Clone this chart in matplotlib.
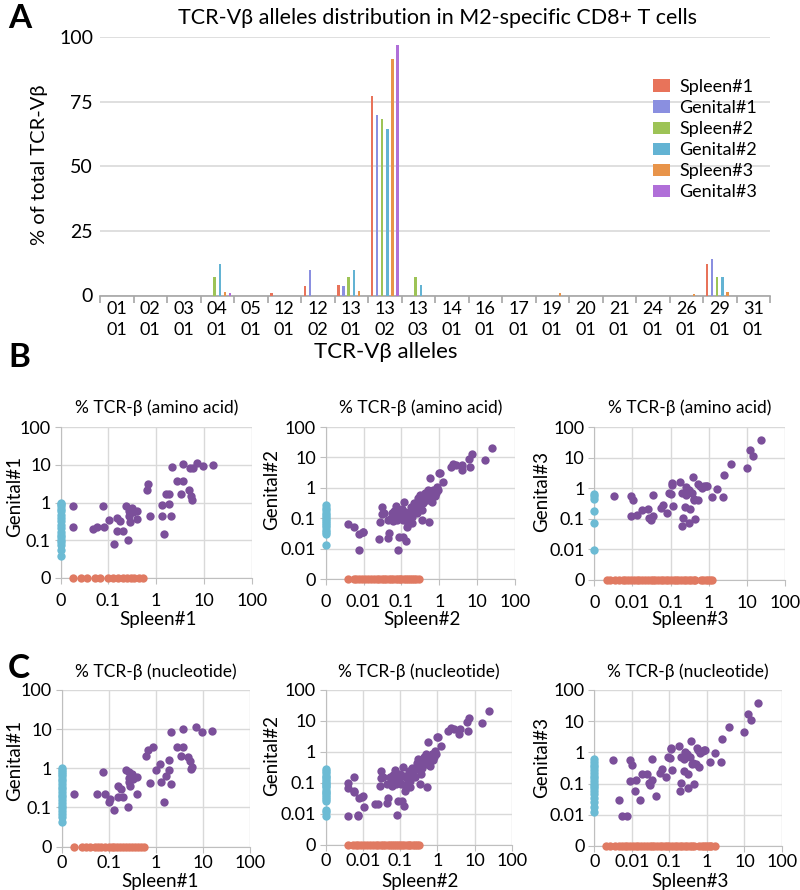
import numpy as np
import matplotlib
matplotlib.use("Agg")
import matplotlib.pyplot as plt
from matplotlib.patches import Patch

plt.rcParams['font.family'] = ['Lato', 'DejaVu Sans']

# ---------------- Panel A data ----------------
categories = ["01\n01", "02\n01", "03\n01", "04\n01", "05\n01", "12\n01", "12\n02", "13\n01",
              "13\n02", "13\n03", "14\n01", "16\n01", "17\n01", "19\n01", "20\n01", "21\n01",
              "24\n01", "26\n01", "29\n01", "31\n01"]
series_names = ["Spleen#1", "Genital#1", "Spleen#2", "Genital#2", "Spleen#3", "Genital#3"]
spleen1 = [0, 0, 0, 0, 0, 1.0, 3.7, 4.2, 77, 0, 0, 0, 0, 0, 0, 0, 0, 0, 12.3, 0]
genital1 = [0, 0, 0, 0, 0, 0, 10, 3.6, 70, 0, 0, 0, 0, 0, 0, 0, 0, 0, 14.2, 0]
spleen2 = [0, 0, 0, 7.2, 0, 0, 0, 7.2, 68.4, 7.3, 0, 0, 0, 0, 0, 0, 0, 0, 7.0, 0]
genital2 = [0, 0, 0, 12.3, 0, 0, 0, 9.8, 64.5, 3.9, 0, 0, 0, 0, 0, 0, 0, 0, 7.0, 0]
spleen3 = [0, 0, 0, 1.4, 0, 0, 0, 1.9, 91.5, 0, 0, 0, 0, 0.8, 0, 0, 0, 0.5, 1.4, 0]
genital3 = [0, 0, 0, 0.8, 0, 0, 0, 0, 97, 0, 0, 0, 0, 0, 0, 0, 0, 0, 0, 0]
bar_colors = ["#E8735A", "#8A8FE0", "#9DC356", "#63B3D3", "#E8944A", "#B06FD8"]

# ---------------- Panel B/C data (percent) ----------------
# B1: amino acid, Spleen#1 vs Genital#1 (shared clones)
b1_spleen = [0.018, 0.018, 0.047, 0.057, 0.082, 0.076, 0.103, 0.131, 0.154, 0.178, 0.154, 0.233,
             0.205, 0.257, 0.274, 0.274, 0.283, 0.307, 0.322, 0.40, 0.39, 0.63, 0.67, 0.74, 1.30,
             1.30, 1.46, 1.61, 1.86, 1.86, 2.08, 2.11, 2.78, 3.71, 3.36, 3.71, 4.80, 5.28, 5.63,
             5.81, 5.2, 9.4, 7.05, 15.7]
b1_genital = [0.79, 0.22, 0.20, 0.22, 0.22, 0.82, 0.35, 0.081, 0.38, 0.32, 0.18, 0.82, 0.18,
              0.10, 0.45, 0.58, 0.30, 0.71, 0.55, 0.61, 0.37, 2.1, 3.1, 0.45, 0.88, 0.45, 0.144,
              1.68, 1.68, 0.93, 0.43, 8.7, 3.6, 10.5, 1.71, 3.6, 2.1, 1.46, 1.19, 8.2, 8.0, 9.1,
              11.1, 10.0]
b1_genital_only = [1.0, 0.9, 0.82, 0.67, 0.58, 0.48, 0.39, 0.32, 0.26, 0.21, 0.17, 0.14, 0.12,
                   0.10, 0.09, 0.076, 0.056, 0.039]
b1_spleen_only = [0.018, 0.027, 0.036, 0.052, 0.065, 0.10, 0.127, 0.16, 0.20, 0.24, 0.29, 0.35,
                  0.43, 0.54]

# B2
b2_spleen = [0.0040, 0.0057, 0.0077, 0.0095, 0.0099, 0.0076, 0.025, 0.031, 0.028, 0.030, 0.035,
             0.045, 0.048, 0.045, 0.052, 0.059, 0.061, 0.065, 0.072, 0.078, 0.088, 0.088, 0.096,
             0.102, 0.108, 0.113, 0.117, 0.124, 0.131, 0.137, 0.145, 0.152, 0.083, 0.165, 0.175,
             0.186, 0.206, 0.215, 0.229, 0.253, 0.28, 0.30, 0.31, 0.34, 0.36, 0.38, 0.40, 0.43,
             0.46, 0.51, 0.54, 0.56, 0.59, 0.63, 0.67, 0.70, 0.72, 0.77, 0.82, 0.85, 0.93, 0.96,
             1.04, 1.28, 2.0, 2.35, 2.76, 3.9, 4.0, 6.2, 6.5, 7.2, 16, 24,
             0.055, 0.068, 0.092, 0.152, 0.186, 0.253, 0.37, 0.46]
b2_genital = [0.065, 0.053, 0.031, 0.034, 0.036, 0.0087, 0.021, 0.24, 0.077, 0.138, 0.152, 0.022,
              0.032, 0.088, 0.10, 0.128, 0.081, 0.178, 0.25, 0.088, 0.163, 0.025, 0.113, 0.196,
              0.088, 0.025, 0.33, 0.163, 0.018, 0.053, 0.065, 0.092, 0.0087, 0.113, 0.24, 0.072,
              0.163, 0.31, 0.21, 0.152, 0.45, 0.27, 0.58, 0.088, 0.19, 0.31, 0.42, 0.69, 0.51,
              0.84, 0.075, 2.03, 0.51, 0.35, 0.66, 0.84, 0.62, 0.55, 0.69, 1.08, 0.84, 2.96, 3.1,
              1.50, 4.66, 6.0, 5.6, 3.8, 5.6, 9.2, 4.66, 12.7, 8.5, 21,
              0.152, 0.113, 0.128, 0.14, 0.113, 0.31, 0.51, 0.40]
b2_genital_only = [0.27, 0.22, 0.18, 0.15, 0.13, 0.11, 0.095, 0.08, 0.07, 0.06, 0.05, 0.042,
                   0.035, 0.03, 0.013]
b2_spleen_only = [0.004, 0.0055, 0.0065, 0.0075, 0.009, 0.011, 0.013, 0.016, 0.019, 0.022, 0.026,
                  0.03, 0.035, 0.04, 0.046, 0.053, 0.06, 0.07, 0.08, 0.09, 0.1, 0.115, 0.13, 0.15,
                  0.17, 0.19, 0.22, 0.25, 0.29]

# B3
b3_spleen = [0.0032, 0.0092, 0.0101, 0.0092, 0.0129, 0.0181, 0.026, 0.028, 0.030, 0.034, 0.034,
             0.056, 0.064, 0.082, 0.093, 0.102, 0.109, 0.111, 0.118, 0.177, 0.195, 0.207, 0.239,
             0.25, 0.26, 0.28, 0.30, 0.31, 0.32, 0.36, 0.38, 0.40, 0.42, 0.44, 0.51, 0.53, 0.59,
             0.65, 0.77, 0.83, 0.88, 1.24, 1.61, 2.42, 2.5, 3.84, 9.9, 12.1, 14.8, 23.5, 0.20]
b3_genital = [0.56, 0.57, 0.40, 0.119, 0.13, 0.196, 0.205, 0.105, 0.088, 0.128, 0.62, 0.22, 0.29,
              0.16, 0.69, 0.66, 1.26, 1.43, 0.27, 1.58, 0.059, 0.105, 0.25, 0.62, 1.06, 0.69,
              0.89, 0.072, 0.205, 0.69, 2.30, 0.42, 0.46, 0.097, 0.41, 1.39, 1.20, 0.98, 1.14,
              1.2, 1.2, 0.50, 0.97, 0.51, 2.68, 6.3, 4.43, 17.2, 10.9, 38.5, 0.69]
b3_genital_only = [0.66, 0.55, 0.46, 0.18, 0.075, 0.0096]
b3_spleen_only = [0.0021, 0.0026, 0.0035, 0.0045, 0.0055, 0.0065, 0.0075, 0.009, 0.011, 0.013,
                  0.015, 0.018, 0.021, 0.025, 0.03, 0.035, 0.04, 0.047, 0.055, 0.065, 0.075,
                  0.088, 0.1, 0.12, 0.14, 0.16, 0.19, 0.22, 0.26, 0.3, 0.35, 0.41, 0.45, 0.62,
                  0.72, 0.85, 0.95, 1.05, 1.19]

# C1: nucleotide
c1_spleen = [0.018, 0.057, 0.082, 0.076, 0.103, 0.131, 0.154, 0.178, 0.154, 0.233, 0.205, 0.257,
             0.274, 0.274, 0.283, 0.307, 0.322, 0.40, 0.39, 0.63, 0.67, 0.74, 1.00, 1.20, 1.30,
             1.46, 1.61, 1.86, 1.86, 2.08, 2.11, 2.78, 3.71, 3.36, 3.71, 4.80, 5.28, 5.63, 5.81,
             9.4, 7.05, 15.7, 0.85, 0.105, 0.27]
c1_genital = [0.22, 0.22, 0.22, 0.80, 0.14, 0.085, 0.35, 0.30, 0.18, 0.90, 0.18, 0.10, 0.45,
              0.55, 0.35, 0.70, 0.52, 0.60, 0.22, 2.0, 2.9, 0.42, 0.88, 1.3, 0.45, 0.14, 0.62,
              1.6, 0.92, 0.40, 8.3, 3.4, 10.0, 2.1, 3.5, 1.9, 1.5, 0.95, 1.1, 8.6, 11.5, 9.2,
              3.5, 0.16, 0.80]
c1_genital_only = [1.0, 0.92, 0.82, 0.72, 0.62, 0.54, 0.46, 0.4, 0.34, 0.29, 0.25, 0.21, 0.18,
                   0.15, 0.13, 0.11, 0.095, 0.08, 0.068, 0.056, 0.042]
c1_spleen_only = [0.018, 0.027, 0.033, 0.04, 0.052, 0.06, 0.07, 0.085, 0.10, 0.115, 0.13, 0.15,
                  0.17, 0.20, 0.23, 0.27, 0.31, 0.36, 0.42, 0.48, 0.55]

# C2
c2_spleen = b2_spleen + [0.004, 0.0075, 0.0058, 0.011, 0.004, 0.0058, 0.021]
c2_genital = b2_genital + [0.0085, 0.0085, 0.15, 0.016, 0.10, 0.05, 0.02]
c2_genital_only = [0.28, 0.24, 0.2, 0.17, 0.15, 0.13, 0.115, 0.1, 0.09, 0.08, 0.07, 0.06, 0.05,
                   0.045, 0.04, 0.035, 0.03, 0.026, 0.013, 0.011, 0.0085]
c2_spleen_only = b2_spleen_only + [0.32]

# C3
c3_spleen = b3_spleen + [0.0055, 0.0075, 0.0045, 0.012, 0.016, 0.045, 0.6]
c3_genital = b3_genital + [0.009, 0.009, 0.03, 0.06, 0.03, 0.04, 0.35]
c3_genital_only = [0.6, 0.5, 0.4, 0.33, 0.27, 0.22, 0.18, 0.15, 0.12, 0.1, 0.085, 0.07, 0.058,
                   0.045, 0.035, 0.025, 0.018, 0.012]
c3_spleen_only = b3_spleen_only + [1.3, 1.6]

# ---------------- Figure ----------------
fig = plt.figure(figsize=(8, 8.9), dpi=100)
W, H = 800, 890


def rect(x0, y0, x1, y1):
    return [x0 / W, 1 - y1 / H, (x1 - x0) / W, (y1 - y0) / H]


def ftext(x, y, s, **kw):
    fig.text(x / W, 1 - y / H, s, **kw)


# Panel A
axA = fig.add_axes(rect(100, 37, 770, 295.5))
n = len(categories)
idx = np.arange(n)
series = [spleen1, genital1, spleen2, genital2, spleen3, genital3]
step = 0.152
bw = 0.075
for k, (vals, col, name) in enumerate(zip(series, bar_colors, series_names)):
    axA.bar(idx + (k - 2.5) * step, vals, width=bw, color=col, label=name, zorder=3)
axA.set_xlim(-0.5, n - 0.5)
axA.set_ylim(0, 100)
axA.set_yticks([0, 25, 50, 75, 100])
axA.yaxis.grid(True, color="#d9d9d9", linewidth=1.2, zorder=0)
axA.set_axisbelow(True)
for s in ["top", "right", "left"]:
    axA.spines[s].set_visible(False)
axA.spines["bottom"].set_color("#a6a6a6")
axA.spines["bottom"].set_linewidth(1.2)
axA.set_xticks(idx)
axA.set_xticklabels(categories, fontsize=13, linespacing=1.4)
axA.set_xticks(np.arange(-0.5, n, 1.0), minor=True)
axA.tick_params(axis="x", which="major", length=0, pad=4)
axA.tick_params(axis="x", which="minor", length=5, color="#a6a6a6", width=1.2)
axA.tick_params(axis="y", length=0, labelsize=14, pad=5)
ftext(40, 165, "% of total TCR-V\u03b2", fontsize=14.5, rotation=90, ha="center", va="center")
ftext(386, 352, "TCR-V\u03b2 alleles", fontsize=16, ha="center", va="center")
ftext(437, 18, "TCR-V\u03b2 alleles distribution in M2-specific CD8+ T cells", fontsize=15.5,
      ha="center", va="center")
handles = [Patch(facecolor=c, edgecolor="none") for c in bar_colors]
fig.legend(handles, series_names, loc="upper left", bbox_to_anchor=(644 / W, 1 - 70 / H),
           frameon=False, fontsize=13, handlelength=0.95, handleheight=0.7,
           handletextpad=0.5, labelspacing=0.28, borderpad=0)

purple = "#7B4F9A"
cyan = "#6CBBD4"
orange = "#E07A62"


def panel(box, zero, shared_x, shared_y, g_only, s_only, title, xl, yl, xl_pos, yl_pos, t_y,
          xpad):
    ax = fig.add_axes(rect(*box))
    ax.set_xscale("log")
    ax.set_yscale("log")
    ax.set_xlim(zero, 100)
    ax.set_ylim(zero, 100)
    decades = [zero * 10 ** i for i in range(int(round(np.log10(100 / zero))) + 1)]
    labels = ["0"] + [("%g" % d) for d in decades[1:]]
    ax.set_xticks(decades)
    ax.set_xticklabels(labels)
    ax.set_yticks(decades)
    ax.set_yticklabels(labels)
    ax.minorticks_off()
    ax.grid(True, color="#d9d9d9", linewidth=1.0, zorder=0)
    ax.set_axisbelow(True)
    for s in ["top", "right"]:
        ax.spines[s].set_visible(False)
    for s in ["left", "bottom"]:
        ax.spines[s].set_color("#bfbfbf")
    ax.tick_params(length=4, color="#bfbfbf", labelsize=13, pad=3)
    ax.tick_params(axis="x", pad=xpad)
    go = np.asarray(g_only, dtype=float)
    so = np.asarray(s_only, dtype=float)
    ax.scatter(so, np.full_like(so, zero), s=36, color=orange, linewidths=0, zorder=3,
               clip_on=False)
    ax.scatter(np.full_like(go, zero), go, s=36, color=cyan, linewidths=0, zorder=3,
               clip_on=False)
    ax.scatter(shared_x, shared_y, s=36, color=purple, linewidths=0, zorder=4, clip_on=False)
    cx = (box[0] + box[2]) / 2
    ftext(cx, t_y, title, fontsize=12.5, ha="center", va="center")
    ftext(xl_pos[0], xl_pos[1], xl, fontsize=13.5, ha="center", va="center")
    ftext(yl_pos[0], yl_pos[1], yl, fontsize=13.5, ha="center", va="center", rotation=90)
    return ax


aa = "% TCR-\u03b2 (amino acid)"
nt = "% TCR-\u03b2 (nucleotide)"
panel((60.7, 427, 251.7, 578), 0.01, b1_spleen, b1_genital, b1_genital_only, b1_spleen_only,
      aa, "Spleen#1", "Genital#1", (158, 620), (15, 496), 408, 7)
panel((325.7, 427, 515, 579), 0.001, b2_spleen, b2_genital, b2_genital_only, b2_spleen_only,
      aa, "Spleen#2", "Genital#2", (422, 620), (272, 490), 408, 7)
panel((594.3, 427, 785, 580), 0.001, b3_spleen, b3_genital, b3_genital_only, b3_spleen_only,
      aa, "Spleen#3", "Genital#3", (690, 620), (542, 491), 408, 7)
panel((61.7, 690, 250, 846.5), 0.01, c1_spleen, c1_genital, c1_genital_only, c1_spleen_only,
      nt, "Spleen#1", "Genital#1", (160, 882), (15, 760), 672, 2)
panel((325.7, 690, 511.7, 844.5), 0.001, c2_spleen, c2_genital, c2_genital_only, c2_spleen_only,
      nt, "Spleen#2", "Genital#2", (420, 882), (272, 755), 672, 2)
panel((594.3, 690, 782, 846), 0.001, c3_spleen, c3_genital, c3_genital_only, c3_spleen_only,
      nt, "Spleen#3", "Genital#3", (690, 882), (542, 757), 672, 2)

for letter, (x, y) in {"A": (8, 18), "B": (8, 357), "C": (8, 668)}.items():
    ftext(x, y, letter, fontsize=24, fontweight="bold", va="center", ha="left")

fig.savefig("out.png", dpi=100)
